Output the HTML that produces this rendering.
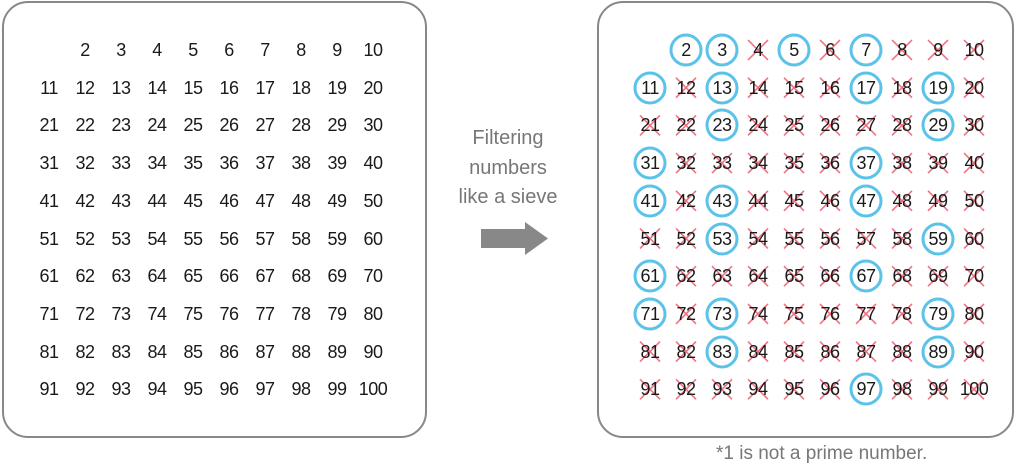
<!DOCTYPE html>
<html><head><meta charset="utf-8"><style>
body{margin:0;width:1024px;height:474px;background:#fff;position:relative;overflow:hidden;font-family:"Liberation Sans",sans-serif}
svg{position:absolute;left:0;top:0}
.g{position:absolute;font-size:18px;color:#1a1a1a;letter-spacing:-0.5px}
.r{height:22px;line-height:22px;white-space:nowrap}
.r span{display:inline-block;width:36px;text-align:center}
.t{position:absolute;color:#777;font-size:20px;text-align:center;width:140px;left:438px;line-height:29.5px;top:124px}
.f{position:absolute;left:716px;top:443px;font-size:19px;color:#777}
</style></head><body>
<svg width="1024" height="474">
<defs>
<pattern id="x" patternUnits="userSpaceOnUse" x="632" y="31.15" width="36" height="37.7">
<path d="M8 8.85 L28 28.85 M28 8.85 L8 28.85" stroke="#f07080" stroke-width="1.6"/>
</pattern>
</defs>
<rect x="3" y="2" width="423" height="435" rx="25" fill="#fff" stroke="#888" stroke-width="2"/>
<rect x="598" y="2" width="415" height="435" rx="25" fill="#fff" stroke="#888" stroke-width="2"/>
<rect x="632" y="31.15" width="360" height="377" fill="url(#x)"/>
<rect x="632" y="31" width="36" height="38" fill="#fff"/>
<g fill="#fff" stroke="#5bc3ea" stroke-width="3">
<circle cx="686" cy="50" r="15"/><circle cx="722" cy="50" r="15"/><circle cx="794" cy="50" r="15"/><circle cx="866" cy="50" r="15"/>
<circle cx="650" cy="88" r="15"/><circle cx="722" cy="88" r="15"/><circle cx="866" cy="88" r="15"/><circle cx="938" cy="88" r="15"/>
<circle cx="722" cy="125" r="15"/><circle cx="938" cy="125" r="15"/>
<circle cx="650" cy="163" r="15"/><circle cx="866" cy="163" r="15"/>
<circle cx="650" cy="201" r="15"/><circle cx="722" cy="201" r="15"/><circle cx="866" cy="201" r="15"/>
<circle cx="722" cy="239" r="15"/><circle cx="938" cy="239" r="15"/>
<circle cx="650" cy="276" r="15"/><circle cx="866" cy="276" r="15"/>
<circle cx="650" cy="314" r="15"/><circle cx="722" cy="314" r="15"/><circle cx="938" cy="314" r="15"/>
<circle cx="722" cy="352" r="15"/><circle cx="938" cy="352" r="15"/>
<circle cx="866" cy="389" r="15"/>
</g>
<path d="M481 229 H525 V222 L548 238.5 L525 255 V248 H481 Z" fill="#888"/>
</svg>
<div class="g" style="left:31px;top:0">
<div class="r" style="position:absolute;top:39px"><span></span><span>2</span><span>3</span><span>4</span><span>5</span><span>6</span><span>7</span><span>8</span><span>9</span><span>10</span></div>
<div class="r" style="position:absolute;top:77px"><span>11</span><span>12</span><span>13</span><span>14</span><span>15</span><span>16</span><span>17</span><span>18</span><span>19</span><span>20</span></div>
<div class="r" style="position:absolute;top:114px"><span>21</span><span>22</span><span>23</span><span>24</span><span>25</span><span>26</span><span>27</span><span>28</span><span>29</span><span>30</span></div>
<div class="r" style="position:absolute;top:152px"><span>31</span><span>32</span><span>33</span><span>34</span><span>35</span><span>36</span><span>37</span><span>38</span><span>39</span><span>40</span></div>
<div class="r" style="position:absolute;top:190px"><span>41</span><span>42</span><span>43</span><span>44</span><span>45</span><span>46</span><span>47</span><span>48</span><span>49</span><span>50</span></div>
<div class="r" style="position:absolute;top:228px"><span>51</span><span>52</span><span>53</span><span>54</span><span>55</span><span>56</span><span>57</span><span>58</span><span>59</span><span>60</span></div>
<div class="r" style="position:absolute;top:265px"><span>61</span><span>62</span><span>63</span><span>64</span><span>65</span><span>66</span><span>67</span><span>68</span><span>69</span><span>70</span></div>
<div class="r" style="position:absolute;top:303px"><span>71</span><span>72</span><span>73</span><span>74</span><span>75</span><span>76</span><span>77</span><span>78</span><span>79</span><span>80</span></div>
<div class="r" style="position:absolute;top:341px"><span>81</span><span>82</span><span>83</span><span>84</span><span>85</span><span>86</span><span>87</span><span>88</span><span>89</span><span>90</span></div>
<div class="r" style="position:absolute;top:378px"><span>91</span><span>92</span><span>93</span><span>94</span><span>95</span><span>96</span><span>97</span><span>98</span><span>99</span><span>100</span></div>
</div>
<div class="g" style="left:632px;top:0">
<div class="r" style="position:absolute;top:39px"><span></span><span>2</span><span>3</span><span>4</span><span>5</span><span>6</span><span>7</span><span>8</span><span>9</span><span>10</span></div>
<div class="r" style="position:absolute;top:77px"><span>11</span><span>12</span><span>13</span><span>14</span><span>15</span><span>16</span><span>17</span><span>18</span><span>19</span><span>20</span></div>
<div class="r" style="position:absolute;top:114px"><span>21</span><span>22</span><span>23</span><span>24</span><span>25</span><span>26</span><span>27</span><span>28</span><span>29</span><span>30</span></div>
<div class="r" style="position:absolute;top:152px"><span>31</span><span>32</span><span>33</span><span>34</span><span>35</span><span>36</span><span>37</span><span>38</span><span>39</span><span>40</span></div>
<div class="r" style="position:absolute;top:190px"><span>41</span><span>42</span><span>43</span><span>44</span><span>45</span><span>46</span><span>47</span><span>48</span><span>49</span><span>50</span></div>
<div class="r" style="position:absolute;top:228px"><span>51</span><span>52</span><span>53</span><span>54</span><span>55</span><span>56</span><span>57</span><span>58</span><span>59</span><span>60</span></div>
<div class="r" style="position:absolute;top:265px"><span>61</span><span>62</span><span>63</span><span>64</span><span>65</span><span>66</span><span>67</span><span>68</span><span>69</span><span>70</span></div>
<div class="r" style="position:absolute;top:303px"><span>71</span><span>72</span><span>73</span><span>74</span><span>75</span><span>76</span><span>77</span><span>78</span><span>79</span><span>80</span></div>
<div class="r" style="position:absolute;top:341px"><span>81</span><span>82</span><span>83</span><span>84</span><span>85</span><span>86</span><span>87</span><span>88</span><span>89</span><span>90</span></div>
<div class="r" style="position:absolute;top:378px"><span>91</span><span>92</span><span>93</span><span>94</span><span>95</span><span>96</span><span>97</span><span>98</span><span>99</span><span>100</span></div>
</div>
<div class="t">Filtering<br>numbers<br>like a sieve</div>
<div class="f">*1 is not a prime number.</div>
</body></html>
